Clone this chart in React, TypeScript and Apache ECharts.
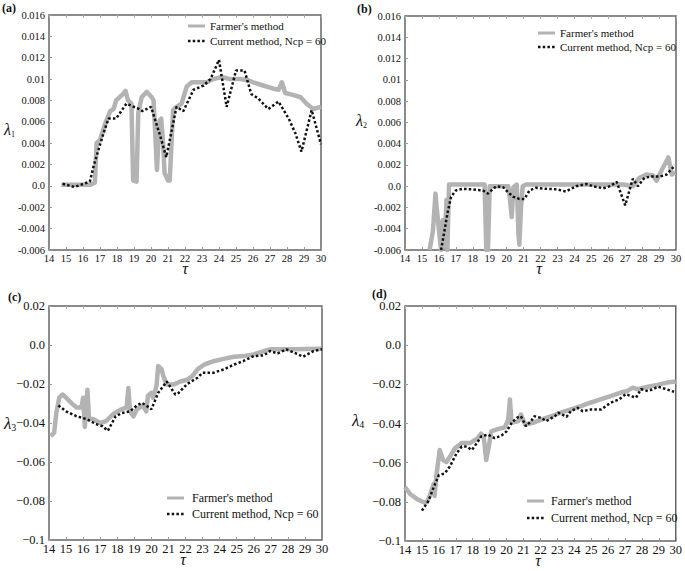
import React, { useEffect, useRef } from "react";
import * as echarts from "echarts";

// ---------- data ----------
const tauFarmerA = [14.73,16.4,16.7,16.8,17.0,17.3,17.6,17.8,17.95,18.35,18.5,18.65,18.85,18.95,19.15,19.25,19.45,19.75,20.05,20.15,20.25,20.35,20.5,20.6,20.7,20.8,21.0,21.1,21.3,21.5,21.8,22.1,22.4,22.8,23.3,23.65,24.15,24.65,25.25,25.7,26.0,26.6,27.2,27.5,27.7,27.9,28.4,28.8,29.15,29.55,30];
const lamFarmerA = [0.0001,0.0001,0.0003,0.004,0.0043,0.0058,0.007,0.0072,0.008,0.0086,0.0089,0.008,0.0077,0.0005,0.0004,0.0068,0.0083,0.0088,0.0083,0.008,0.0049,0.0015,0.0061,0.0063,0.0043,0.0012,0.0005,0.0005,0.0071,0.0074,0.0077,0.0093,0.0097,0.0097,0.0097,0.01,0.0102,0.01,0.01,0.0099,0.0097,0.0094,0.0091,0.009,0.0097,0.0087,0.0085,0.0083,0.0077,0.0072,0.0074];
const tauCurrentA = [14.8,15.5,16.4,16.65,17.2,17.5,17.95,18.55,19.3,19.5,20.0,20.5,20.9,21.5,21.9,22.5,23.1,23.5,24.0,24.45,25.0,25.5,25.9,26.3,26.9,27.5,28.1,28.5,28.85,29.45,30];
const lamCurrentA = [0.0002,-0.0001,0.0004,0.002,0.0049,0.0063,0.0063,0.0077,0.0072,0.007,0.0074,0.0049,0.0027,0.0074,0.007,0.009,0.0094,0.01,0.0118,0.0074,0.0108,0.0108,0.0086,0.0082,0.0072,0.0079,0.0063,0.0049,0.0032,0.0071,0.0039];

const tauFarmerB = [15.45,15.65,15.8,15.87,16.03,16.13,16.23,16.33,16.45,16.5,16.6,18.7,18.8,18.9,19.0,20.1,20.2,20.3,20.4,20.6,20.7,20.75,20.85,20.95,21.15,26.9,27.45,27.85,28.25,28.65,28.85,29.15,29.55,29.75,29.95];
const lamFarmerB = [-0.006,-0.0042,-0.0007,-0.002,-0.0045,-0.006,-0.0032,-0.0057,-0.0013,-0.006,0.00015,0.00015,-0.006,-0.006,0,0,-0.0013,-0.0029,-0.0001,0.00015,-0.0045,-0.0055,-0.002,0,0.00015,0.00015,0,0.0008,0.0011,0.001,0.0005,0.0015,0.0027,0.0011,0.0013];
const tauCurrentB = [16.13,16.33,16.5,16.72,17.0,17.4,18.0,18.6,18.9,19.2,19.4,19.8,20.1,20.4,20.75,21.05,21.35,21.75,22.35,22.95,23.5,24.1,24.7,25.1,25.7,26.1,26.5,27.0,27.45,27.75,28.15,28.55,29.05,29.45,29.85];
const lamCurrentB = [-0.006,-0.0042,-0.0026,-0.001,-0.0004,-0.00025,-0.0003,-0.0004,-0.0007,-0.00025,0,-0.0001,-0.0006,-0.001,-0.0012,-0.0012,-0.0004,-0.00015,-0.00025,-0.0003,-0.0005,0,0.0002,0,-0.0002,0,0.0004,-0.0018,0.0007,0,0.0008,0.0009,0.0009,0.0011,0.0018];

const tauFarmerC = [14.1,14.3,14.43,14.6,14.8,15.0,15.3,15.6,15.9,16.0,16.1,16.25,16.35,16.6,17.0,17.35,17.75,18.15,18.55,18.65,18.75,18.95,19.15,19.5,19.7,19.8,20.0,20.1,20.3,20.4,20.6,20.7,20.9,21.3,21.7,22.1,22.4,22.7,23.1,23.7,24.3,24.85,25.4,26.0,26.6,27.0,28.2,29.95];
const lamFarmerC = [-0.0467,-0.045,-0.0347,-0.027,-0.0254,-0.027,-0.0297,-0.032,-0.032,-0.027,-0.042,-0.023,-0.038,-0.038,-0.04,-0.039,-0.0355,-0.0334,-0.032,-0.022,-0.034,-0.0366,-0.033,-0.031,-0.034,-0.026,-0.0245,-0.027,-0.021,-0.0108,-0.0125,-0.016,-0.0203,-0.0203,-0.0187,-0.0178,-0.016,-0.0125,-0.01,-0.0082,-0.007,-0.006,-0.0057,-0.0048,-0.0031,-0.0022,-0.0022,-0.0019];
const tauCurrentC = [14.55,15.0,15.6,16.2,16.75,17.15,17.45,17.9,18.25,18.75,19.15,19.45,19.7,20.0,20.4,20.9,21.4,21.6,22.1,22.7,23.0,23.65,24.25,24.85,25.4,26.0,26.6,26.95,27.4,27.9,28.15,28.9,29.5,30];
const lamCurrentC = [-0.031,-0.034,-0.0365,-0.038,-0.0405,-0.0417,-0.044,-0.0366,-0.035,-0.034,-0.031,-0.0297,-0.031,-0.033,-0.0245,-0.0187,-0.0254,-0.0245,-0.02,-0.0168,-0.0142,-0.0142,-0.0125,-0.01,-0.0082,-0.0057,-0.0053,-0.0031,-0.0043,-0.0022,-0.0031,-0.006,-0.0031,-0.0022];

const tauFarmerD = [14.0,14.3,14.7,15.1,15.3,15.5,15.7,15.75,15.85,16.0,16.05,16.25,16.45,16.65,16.95,17.35,17.85,18.3,18.5,18.65,18.8,18.95,19.1,19.5,19.9,20.1,20.2,20.3,20.7,20.85,21.1,21.55,22.05,22.65,23.2,23.8,24.4,24.95,25.55,26.15,26.75,27.15,27.45,27.75,28.35,28.9,29.5,30];
const lamFarmerD = [-0.0724,-0.076,-0.0785,-0.0802,-0.0802,-0.076,-0.0708,-0.077,-0.067,-0.057,-0.0535,-0.0587,-0.0596,-0.057,-0.0527,-0.05,-0.05,-0.0475,-0.0452,-0.0466,-0.0587,-0.0518,-0.044,-0.0428,-0.042,-0.038,-0.0277,-0.0397,-0.0388,-0.0354,-0.0405,-0.0397,-0.038,-0.0363,-0.0345,-0.0328,-0.0311,-0.0294,-0.0277,-0.026,-0.0242,-0.0234,-0.0217,-0.0225,-0.0212,-0.0203,-0.0191,-0.0186];
const tauCurrentD = [15.0,15.4,15.7,16.0,16.35,16.65,17.05,17.35,17.65,17.95,18.25,18.5,18.9,19.3,19.7,20.0,20.3,20.6,20.85,21.15,21.45,21.65,22.05,22.35,22.85,23.05,23.55,23.8,24.2,24.5,25.0,25.6,26.15,26.65,27.05,27.35,27.65,27.95,28.35,28.65,28.95,29.45,29.9];
const lamCurrentD = [-0.0845,-0.0793,-0.0724,-0.0664,-0.0655,-0.062,-0.0552,-0.0518,-0.0518,-0.0535,-0.05,-0.0466,-0.0457,-0.0475,-0.0462,-0.044,-0.0397,-0.0371,-0.0363,-0.0414,-0.0388,-0.0363,-0.0371,-0.0388,-0.0363,-0.0345,-0.0366,-0.0337,-0.032,-0.0337,-0.0328,-0.0328,-0.0294,-0.0277,-0.025,-0.026,-0.0268,-0.0225,-0.0234,-0.0225,-0.0212,-0.0225,-0.0238];

const seriesNames = ["Farmer's method", "Current method, Ncp = 60"];
const panelLetters = ["(a)", "(b)", "(c)", "(d)"];
const yLimitsTop = [-0.006, 0.016, 0.002];
const yLimitsBottom = [-0.1, 0.02, 0.02];
const xLimits = [14, 30, 1];

const zip = (xs: number[], ys: number[]) => {
  const n = Math.min(xs.length, ys.length);
  const out: number[][] = [];
  for (let i = 0; i < n; i++) out.push([xs[i], ys[i]]);
  return out;
};

const SERIF = "Liberation Serif, Times New Roman, serif";

export default function App() {
  const ref = useRef<HTMLDivElement>(null);
  useEffect(() => {
    if (!ref.current) return;
    const chart = echarts.init(ref.current, null, { renderer: "svg" });

    const grids = [
      { left: 49, top: 15, width: 272, height: 235 },
      { left: 405, top: 16, width: 271, height: 234 },
      { left: 49, top: 306, width: 273, height: 234 },
      { left: 405, top: 306, width: 274, height: 235 },
    ];
    const small = [true, true, false, false];
    const fmtTop = (v: number) => {
      const r = parseFloat(v.toFixed(3));
      return r === 0 ? "0.0" : String(r);
    };
    const fmtBottom = (v: number) => {
      const r = parseFloat(v.toFixed(2));
      return r === 0 ? "0.0" : String(r).replace("-", "\u2212");
    };

    const xAxes: any[] = [];
    const yAxes: any[] = [];
    grids.forEach((g, i) => {
      const fs = small[i] ? 10.5 : 12.5;
      xAxes.push({
        type: "value", gridIndex: i, position: "bottom",
        min: xLimits[0], max: xLimits[1], interval: xLimits[2],
        axisLine: { show: false, onZero: false },
        axisTick: { inside: true, length: 3, lineStyle: { color: "#999" } },
        axisLabel: { fontFamily: SERIF, fontSize: fs, color: "#111", margin: small[i] ? 3 : 2 },
        splitLine: { show: false },
      });
      xAxes.push({
        type: "value", gridIndex: i, position: "top",
        min: xLimits[0], max: xLimits[1], interval: xLimits[2],
        axisLine: { show: false, onZero: false },
        axisTick: { inside: true, length: 3, lineStyle: { color: "#aaa" } },
        axisLabel: { show: false },
        splitLine: { show: false },
      });
      const lim = small[i] ? yLimitsTop : yLimitsBottom;
      yAxes.push({
        type: "value", gridIndex: i,
        min: lim[0], max: lim[1], interval: lim[2],
        axisLine: { show: false, onZero: false },
        axisTick: { inside: true, length: 3, lineStyle: { color: "#999" } },
        axisLabel: {
          fontFamily: SERIF, fontSize: fs, color: "#111", margin: 4,
          formatter: small[i] ? fmtTop : fmtBottom,
        },
        splitLine: { show: false },
      });
    });

    const farmer = [
      zip(tauFarmerA, lamFarmerA), zip(tauFarmerB, lamFarmerB),
      zip(tauFarmerC, lamFarmerC), zip(tauFarmerD, lamFarmerD),
    ];
    const current = [
      zip(tauCurrentA, lamCurrentA), zip(tauCurrentB, lamCurrentB),
      zip(tauCurrentC, lamCurrentC), zip(tauCurrentD, lamCurrentD),
    ];
    const series: any[] = [];
    for (let i = 0; i < 4; i++) {
      series.push({
        type: "line", name: seriesNames[0], xAxisIndex: i * 2, yAxisIndex: i,
        data: farmer[i], symbol: "none", clip: true, z: 2,
        lineStyle: { color: "#b3b3b3", width: 4.5, join: "round" },
      });
      series.push({
        type: "line", name: seriesNames[1], xAxisIndex: i * 2, yAxisIndex: i,
        data: current[i], symbol: "none", clip: true, z: 3,
        lineStyle: { color: "#111", width: 2.5, type: [2.5, 2.2] },
      });
    }

    // annotations
    const graphic: any[] = [];
    const legendPos = [
      { x: 188, y1: 26, y2: 41, tx: 210, fs: 11 },
      { x: 538, y1: 33, y2: 47, tx: 560, fs: 11 },
      { x: 167, y1: 498, y2: 514, tx: 192, fs: 12 },
      { x: 527, y1: 501, y2: 518, tx: 551, fs: 12 },
    ];
    legendPos.forEach((p) => {
      graphic.push({ type: "line", shape: { x1: p.x, y1: p.y1, x2: p.x + 17, y2: p.y1 }, style: { stroke: "#b3b3b3", lineWidth: 3 } });
      graphic.push({ type: "line", shape: { x1: p.x, y1: p.y2, x2: p.x + 18, y2: p.y2 }, style: { stroke: "#111", lineWidth: 2.5, lineDash: [2.5, 2.2] } });
      graphic.push({ type: "text", x: p.tx, y: p.y1, style: { text: seriesNames[0], fill: "#111", font: `${p.fs}px ${SERIF}`, verticalAlign: "middle" } });
      graphic.push({ type: "text", x: p.tx, y: p.y2, style: { text: seriesNames[1], fill: "#111", font: `${p.fs}px ${SERIF}`, verticalAlign: "middle" } });
    });
    const letterPos = [[2, 8], [357, 9], [8, 297], [372, 294]];
    letterPos.forEach((p, i) => {
      graphic.push({ type: "text", x: p[0], y: p[1], style: { text: panelLetters[i], fill: "#111", font: `bold 12px ${SERIF}`, verticalAlign: "middle" } });
    });
    const lamPos = [
      { x: 4, y: 129, fs: 16, ss: 8, sub: "1" },
      { x: 356, y: 120, fs: 16, ss: 8, sub: "2" },
      { x: 4, y: 423, fs: 17, ss: 10, sub: "3" },
      { x: 352, y: 420, fs: 17, ss: 10, sub: "4" },
    ];
    lamPos.forEach((p) => {
      graphic.push({
        type: "text", x: p.x, y: p.y,
        style: {
          text: `{l|\u03bb}{s|${p.sub}}`,
          verticalAlign: "middle",
          rich: {
            l: { fontFamily: SERIF, fontStyle: "italic", fontSize: p.fs, lineHeight: p.fs + 2, fill: "#111", color: "#111" },
            s: { fontFamily: SERIF, fontSize: p.ss, lineHeight: p.ss + 1, verticalAlign: "bottom", fill: "#111", color: "#111" },
          },
        },
      });
    });
    const tauPos = [[185, 268, 16], [539, 268, 16], [183, 559, 16], [538, 560, 16]];
    tauPos.forEach((p) => {
      graphic.push({ type: "text", x: p[0], y: p[1], style: { text: "\u03c4", fill: "#111", font: `italic ${p[2]}px ${SERIF}`, align: "center", verticalAlign: "middle" } });
    });

    chart.setOption({
      animation: false,
      backgroundColor: "#fff",
      grid: grids.map((g) => ({ ...g, show: true, borderColor: "#666", borderWidth: 1.5, backgroundColor: "transparent" })),
      xAxis: xAxes,
      yAxis: yAxes,
      series,
      graphic,
    });
    return () => chart.dispose();
  }, []);
  return (
    <div
      ref={ref}
      style={{ position: "fixed", left: 0, top: 0, width: 685, height: 571, background: "#fff" }}
    />
  );
}
